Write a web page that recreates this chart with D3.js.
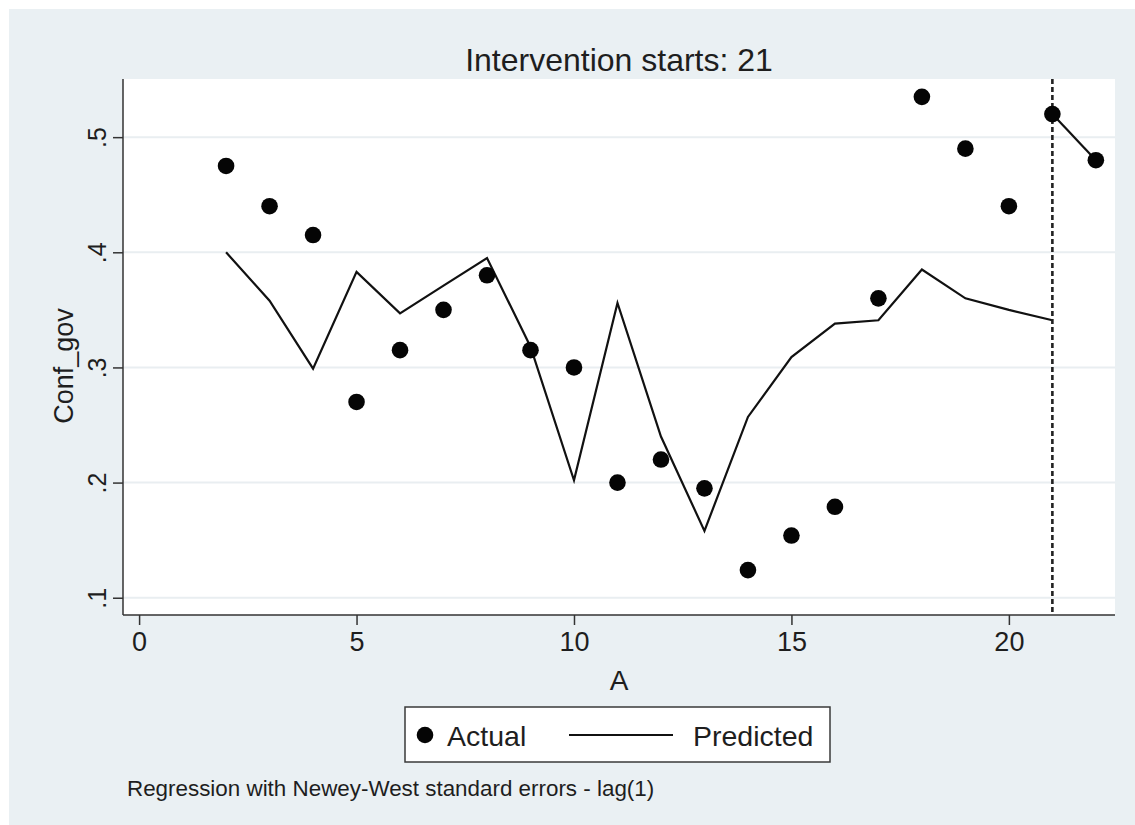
<!DOCTYPE html>
<html>
<head>
<meta charset="utf-8">
<script src="https://cdn.jsdelivr.net/npm/d3@7/dist/d3.min.js"></script>
<style>
  html, body { margin: 0; padding: 0; background: #ffffff; }
  svg { display: block; }
  text { font-family: "Liberation Sans", Arial, Helvetica, sans-serif; fill: #1e1e1e; }
</style>
</head>
<body>
<svg id="chart" width="1135" height="825"></svg>
<script>
// Time periods (A) and observed series
const periods = [2, 3, 4, 5, 6, 7, 8, 9, 10, 11, 12, 13, 14, 15, 16, 17, 18, 19, 20, 21, 22];
const actual = [0.475, 0.44, 0.415, 0.27, 0.315, 0.35, 0.38, 0.315, 0.30, 0.20, 0.22,
                0.195, 0.124, 0.154, 0.179, 0.36, 0.535, 0.49, 0.44, 0.52, 0.48];

// Fitted values before the intervention (periods 2..21) and after it (21..22)
const prePeriods = [2, 3, 4, 5, 6, 7, 8, 9, 10, 11, 12, 13, 14, 15, 16, 17, 18, 19, 20, 21];
const predictedPre = [0.40, 0.358, 0.299, 0.383, 0.347, 0.371, 0.395, 0.318, 0.202, 0.356,
                      0.24, 0.158, 0.257, 0.309, 0.338, 0.341, 0.385, 0.36, 0.35, 0.341];
const postPeriods = [21, 22];
const predictedPost = [0.52, 0.48];

const interventionStart = 21;

const xTicks = [0, 5, 10, 15, 20];
const yTicks = [0.1, 0.2, 0.3, 0.4, 0.5];
const yTickLabels = [".1", ".2", ".3", ".4", ".5"];

const titleText = "Intervention starts: 21";
const xTitle = "A";
const yTitle = "Conf_gov";
const legendLabels = ["Actual", "Predicted"];
const noteText = "Regression with Newey-West standard errors - lag(1)";

// ---- layout ----
const W = 1135, H = 825;
const plot = { left: 123, right: 1115, top: 79, bottom: 615 };

const svg = d3.select("#chart");

// graph region background
svg.append("rect")
  .attr("x", 9).attr("y", 9)
  .attr("width", W - 9).attr("height", H - 9)
  .attr("fill", "#eaf0f3");

// plot region
svg.append("rect")
  .attr("x", plot.left).attr("y", plot.top)
  .attr("width", plot.right - plot.left).attr("height", plot.bottom - plot.top)
  .attr("fill", "#ffffff");

const x = d3.scaleLinear().domain([-0.37, 22.44]).range([plot.left, plot.right]);
const y = d3.scaleLinear().domain([0.085, 0.5505]).range([plot.bottom, plot.top]);

// horizontal grid lines
svg.append("g")
  .selectAll("line")
  .data(yTicks)
  .join("line")
  .attr("x1", plot.left).attr("x2", plot.right)
  .attr("y1", d => y(d)).attr("y2", d => y(d))
  .attr("stroke", "#e9eef1")
  .attr("stroke-width", 2);

// y axis
const yAxis = d3.axisLeft(y)
  .tickValues(yTicks)
  .tickFormat((d, i) => yTickLabels[i])
  .tickSize(10)
  .tickPadding(6);
const gy = svg.append("g")
  .attr("transform", `translate(${plot.left},0)`)
  .call(yAxis);
gy.select(".domain").attr("stroke", "#333").attr("stroke-width", 1.5)
  .attr("d", `M0,${plot.top}V${plot.bottom}`);
gy.selectAll(".tick line").attr("stroke", "#333").attr("stroke-width", 1.5);
gy.selectAll(".tick text")
  .attr("font-size", 25)
  .attr("fill", "#1e1e1e")
  .attr("text-anchor", "middle")
  .attr("x", null)
  .attr("transform", "translate(-17,0) rotate(-90)")
  .attr("dy", "0em");

// x axis
const xAxis = d3.axisBottom(x)
  .tickValues(xTicks)
  .tickFormat(d3.format("d"))
  .tickSize(10)
  .tickPadding(7);
const gx = svg.append("g")
  .attr("transform", `translate(0,${plot.bottom})`)
  .call(xAxis);
gx.select(".domain").attr("stroke", "#333").attr("stroke-width", 1.5)
  .attr("d", `M${plot.left},0H${plot.right}`);
gx.selectAll(".tick line").attr("stroke", "#333").attr("stroke-width", 1.5);
gx.selectAll(".tick text").attr("font-size", 27).attr("fill", "#1e1e1e");

// axis titles
svg.append("text")
  .attr("x", (plot.left + plot.right) / 2)
  .attr("y", 690)
  .attr("text-anchor", "middle")
  .attr("font-size", 28)
  .text(xTitle);

svg.append("text")
  .attr("transform", `translate(73,366) rotate(-90)`)
  .attr("text-anchor", "middle")
  .attr("font-size", 27)
  .text(yTitle);

// title
svg.append("text")
  .attr("x", (plot.left + plot.right) / 2)
  .attr("y", 71)
  .attr("text-anchor", "middle")
  .attr("font-size", 32)
  .text(titleText);

// predicted line segments
const line = d3.line().x(d => x(d[0])).y(d => y(d[1]));
svg.append("path")
  .datum(d3.zip(prePeriods, predictedPre))
  .attr("d", line)
  .attr("fill", "none")
  .attr("stroke", "#111")
  .attr("stroke-width", 2.2)
  .attr("stroke-linejoin", "miter");
svg.append("path")
  .datum(d3.zip(postPeriods, predictedPost))
  .attr("d", line)
  .attr("fill", "none")
  .attr("stroke", "#111")
  .attr("stroke-width", 2.2);

// intervention marker
svg.append("line")
  .attr("x1", x(interventionStart)).attr("x2", x(interventionStart))
  .attr("y1", plot.top).attr("y2", plot.bottom)
  .attr("stroke", "#222")
  .attr("stroke-width", 2.6)
  .attr("stroke-dasharray", "5,3");

// actual observations
svg.append("g")
  .selectAll("circle")
  .data(d3.zip(periods, actual))
  .join("circle")
  .attr("cx", d => x(d[0]))
  .attr("cy", d => y(d[1]))
  .attr("r", 8.3)
  .attr("fill", "#050505");

// legend
const lg = svg.append("g").attr("transform", "translate(405,707)");
lg.append("rect")
  .attr("x", 0).attr("y", 0).attr("width", 425).attr("height", 55)
  .attr("fill", "#ffffff").attr("stroke", "#3a3a3a").attr("stroke-width", 1.5);
lg.append("circle").attr("cx", 20).attr("cy", 28).attr("r", 8.3).attr("fill", "#050505");
lg.append("text").attr("x", 42).attr("y", 39).attr("font-size", 28.5).text(legendLabels[0]);
lg.append("line").attr("x1", 164).attr("x2", 268).attr("y1", 28).attr("y2", 28)
  .attr("stroke", "#111").attr("stroke-width", 2.2);
lg.append("text").attr("x", 288).attr("y", 39).attr("font-size", 28.5).text(legendLabels[1]);

// note
svg.append("text")
  .attr("x", 127).attr("y", 796)
  .attr("font-size", 22.4)
  .attr("fill", "#2a2a2a")
  .text(noteText);
</script>
</body>
</html>
